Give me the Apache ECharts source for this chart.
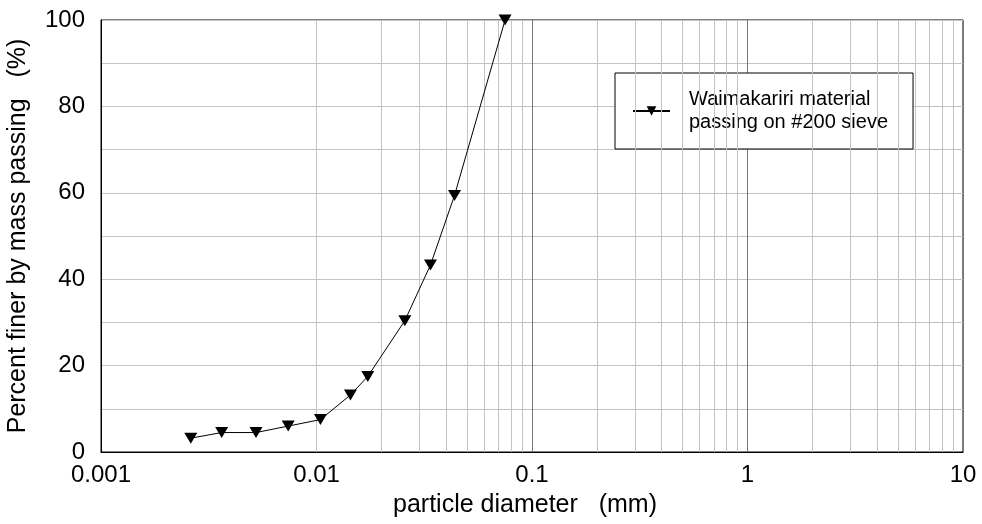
<!DOCTYPE html>
<html>
<head>
<meta charset="utf-8">
<script src="https://cdn.jsdelivr.net/npm/echarts@6/dist/echarts.min.js"></script>
<style>
  html, body { margin: 0; padding: 0; background: #fff; }
  #chart { width: 982px; height: 524px; }
</style>
</head>
<body>
<div id="chart"></div>
<script>
// Grain-size distribution of fines passing the #200 sieve
const seriesName = 'Waimakariri material\npassing on #200 sieve';
const diameterMm = [0.00261, 0.00363, 0.00524, 0.00739, 0.01043, 0.01437, 0.0173, 0.0257, 0.0338, 0.0437, 0.075];
const percentFiner = [3.2, 4.5, 4.5, 6.0, 7.5, 13.2, 17.5, 30.4, 43.3, 59.4, 100];
const xTickLabels = ['0.001', '0.01', '0.1', '1', '10'];
const yTickLabels = ['0', '20', '40', '60', '80', '100'];

// Intermediate gridlines at 2..9 within each decade
const minorLines = [];
[0.001, 0.01, 0.1, 1].forEach(function (d) {
  for (let k = 2; k <= 9; k++) minorLines.push({ xAxis: +(d * k).toPrecision(3) });
});

const font = 'Liberation Sans, Arial, sans-serif';
const chart = echarts.init(document.getElementById('chart'));
chart.setOption({
  animation: false,
  backgroundColor: '#fff',
  grid: {
    left: 101, right: 19, top: 20, bottom: 72,
    outerBoundsMode: 'none', containLabel: false,
    show: true, borderColor: '#000', borderWidth: 1, backgroundColor: 'transparent'
  },
  legend: {
    data: [seriesName],
    left: 615, top: 73,
    orient: 'vertical',
    backgroundColor: '#fff',
    borderColor: '#000', borderWidth: 1,
    padding: [15, 25, 15, 17],
    itemWidth: 37, itemHeight: 12, itemGap: 0,
    textStyle: { fontFamily: font, fontSize: 20, color: '#000', lineHeight: 23, padding: [0, 0, 0, 14] }
  },
  xAxis: {
    type: 'log', logBase: 10, min: 0.001, max: 10,
    name: 'particle diameter   (mm)', nameLocation: 'middle', nameGap: 41,
    nameTextStyle: { fontFamily: font, fontSize: 25, color: '#000', padding: [0, 14, 0, 0] },
    axisLine: { show: true, lineStyle: { color: '#000', width: 1 } },
    axisTick: { show: false },
    axisLabel: {
      fontFamily: font, fontSize: 24, color: '#000', margin: 11,
      formatter: function (v) {
        const i = Math.round(Math.log10(v)) + 3;
        return xTickLabels[i] !== undefined ? xTickLabels[i] : '';
      }
    },
    splitLine: { show: true, lineStyle: { color: '#777', width: 1 } }
  },
  yAxis: {
    type: 'value', min: 0, max: 100, interval: 10,
    name: 'Percent finer by mass passing   (%)', nameLocation: 'middle', nameGap: 70,
    nameTextStyle: { fontFamily: font, fontSize: 25, color: '#000' },
    axisLine: { show: true, lineStyle: { color: '#000', width: 1 } },
    axisTick: { show: false },
    axisLabel: {
      fontFamily: font, fontSize: 24, color: '#000', margin: 16,
      formatter: function (v) {
        return v % 20 === 0 ? yTickLabels[v / 20] : '';
      }
    },
    splitLine: { show: true, lineStyle: { color: '#c4c4c4', width: 1 } }
  },
  series: [
    {
      name: 'minor grid',
      type: 'line',
      data: [],
      z: 1,
      silent: true,
      markLine: {
        silent: true,
        symbol: 'none',
        label: { show: false },
        lineStyle: { color: '#c4c4c4', width: 1, type: 'solid' },
        data: minorLines
      }
    },
    {
      name: seriesName,
      type: 'line',
      z: 5,
      data: diameterMm.map(function (d, i) { return [d, percentFiner[i]]; }),
      symbol: 'path://M0,0 L12,0 L6,10 Z',
      symbolSize: [13, 11],
      showAllSymbol: true,
      itemStyle: { color: '#000' },
      lineStyle: { color: '#000', width: 1 }
    }
  ]
});
</script>
</body>
</html>
